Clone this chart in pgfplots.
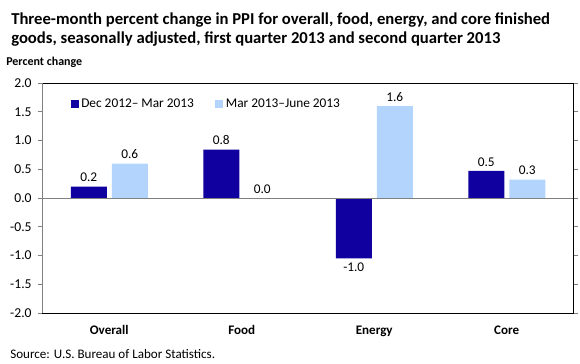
\documentclass[border=0pt]{standalone}
\usepackage{pgfplots}
\pgfplotsset{compat=1.18}
\usepackage{fontspec}
\setmainfont{Carlito}
\definecolor{darkbar}{RGB}{16,0,160}
\definecolor{lightbar}{RGB}{179,212,252}
\definecolor{axgray}{RGB}{128,128,128}
\begin{document}
\begin{tikzpicture}
\useasboundingbox (0,0) rectangle (435pt,-272.25pt);
\node[anchor=base west,font=\bfseries\fontsize{12.5}{14}\selectfont,inner sep=0] at (8.25pt,-18.75pt) {Three-month percent change in PPI for overall, food, energy, and core finished};
\node[anchor=base west,font=\bfseries\fontsize{12.5}{14}\selectfont,inner sep=0] at (8.25pt,-33pt) {goods, seasonally adjusted, first quarter 2013 and second quarter 2013};
\node[anchor=base west,font=\bfseries\fontsize{9}{10}\selectfont,inner sep=0] at (4.5pt,-49.5pt) {Percent change};
\node[anchor=base west,font=\fontsize{9.8}{11}\selectfont,inner sep=0] at (7.5pt,-268.5pt) {Source: U.S. Bureau of Labor Statistics.};
\begin{axis}[
  at={(32.25pt,-234.75pt)}, anchor=south west,
  scale only axis, width=397.5pt, height=172.5pt,
  xmin=-0.5, xmax=3.5, ymin=-2, ymax=2,
  ytick={-2,-1.5,-1,-0.5,0,0.5,1,1.5,2},
  yticklabels={-2.0,-1.5,-1.0,-0.5,0.0,0.5,1.0,1.5,2.0},
  xtick={0,1,2,3},
  xticklabels={Overall,Food,Energy,Core},
  xticklabel style={font=\bfseries\fontsize{9.8}{11}\selectfont, yshift=-2pt},
  yticklabel style={font=\fontsize{10.2}{11}\selectfont, xshift=-1pt},
  major tick length=4pt,
  xtick style={draw=none},
  ytick style={draw=axgray, line width=0.75pt},
  tick align=outside,
  axis line style={black, line width=0.75pt},
  ybar=3.75pt, bar width=27pt,
  nodes near coords,
  point meta=explicit symbolic,
  visualization depends on={y \as \rawy},
  every node near coord/.append style={font=\fontsize{10}{11}\selectfont, black,
     anchor=\ifdim\rawy pt<0pt north\else south\fi},
  legend style={draw=none, fill=none, at={(0.044,0.955)}, anchor=north west, font=\fontsize{10}{11}\selectfont, /tikz/every even column/.append style={column sep=14pt}},
  legend columns=2,
  legend image code/.code={\fill[#1] (2pt,-2.5pt) rectangle (8pt,3.5pt);},
  clip=false,
]
\addplot[fill=darkbar, draw=none] coordinates {(0,0.2)[0.2] (1,0.84)[0.8] (2,-1.05)[-1.0] (3,0.47)[0.5]};
\addplot[fill=lightbar, draw=none] coordinates {(0,0.6)[0.6] (1,0.0)[0.0] (2,1.6)[1.6] (3,0.32)[0.3]};
\legend{Dec 2012-- Mar 2013, Mar 2013--June 2013}
\draw[axgray, line width=0.75pt] (rel axis cs:0,0.5) -- (rel axis cs:1,0.5);
\draw[axgray, line width=0.75pt] (rel axis cs:0,0) -- (rel axis cs:0,1);
\end{axis}
\end{tikzpicture}
\end{document}
